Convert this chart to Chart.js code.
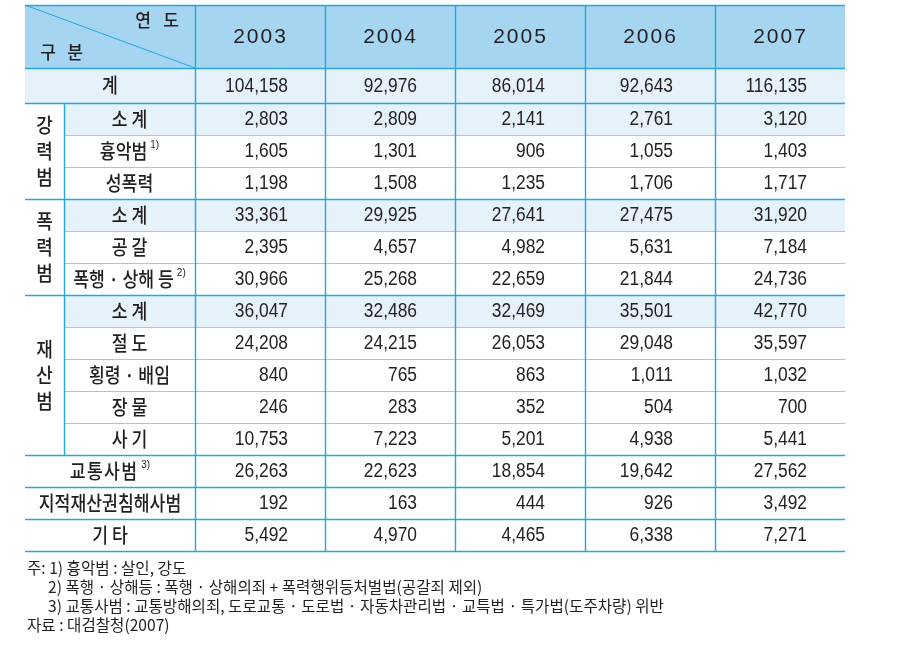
<!DOCTYPE html>
<html><head><meta charset="utf-8">
<script src="https://cdn.jsdelivr.net/npm/chart.js@4/dist/chart.umd.min.js"></script>
<style>
html,body{margin:0;padding:0;background:#fff;}
#wrap{position:relative;width:910px;height:649px;overflow:hidden;}
#c{position:absolute;left:0;top:0;}
.note{position:absolute;font-family:"Noto Sans CJK KR","Noto Sans",sans-serif;font-size:16px;line-height:20px;color:#231f20;white-space:nowrap;transform-origin:0 50%;transform:scaleX(0.975);}
</style>
</head><body>
<div id="wrap"><canvas id="c" width="910" height="649"></canvas>
<div id="notes"></div></div>
<script>
// ---- data ----
const years = ['2003','2004','2005','2006','2007'];
const rowLabels = ['계','소 계','흉악범','성폭력','소 계','공 갈','폭행 · 상해 등','소 계','절 도','횡령 · 배임','장 물','사 기','교통사범','지적재산권침해사범','기 타'];
const rowNotes  = ['','','1)','','','','2)','','','','','','3)','',''];
const groupNames = ['강력범','폭력범','재산범'];
const groupFirstRow = [1,4,7];
const groupLastRow  = [3,6,11];
const subtotalRows = [1,4,7];
const values2003 = [104158,2803,1605,1198,33361,2395,30966,36047,24208,840,246,10753,26263,192,5492];
const values2004 = [92976,2809,1301,1508,29925,4657,25268,32486,24215,765,283,7223,22623,163,4970];
const values2005 = [86014,2141,906,1235,27641,4982,22659,32469,26053,863,352,5201,18854,444,4465];
const values2006 = [92643,2761,1055,1706,27475,5631,21844,35501,29048,1011,504,4938,19642,926,6338];
const values2007 = [116135,3120,1403,1717,31920,7184,24736,42770,35597,1032,700,5441,27562,3492,7271];
const headerYearLabel = '연 도';
const headerRowLabel = '구 분';
const noteLines = ['주: 1) 흉악범 : 살인, 강도',
  '2) 폭행 · 상해등 : 폭행 · 상해의죄 + 폭력행위등처벌법(공갈죄 제외)',
  '3) 교통사범 : 교통방해의죄, 도로교통 · 도로법 · 자동차관리법 · 교특법 · 특가법(도주차량) 위반',
  '자료 : 대검찰청(2007)'];

// ---- layout / style ----
const valuesByYear = [values2003, values2004, values2005, values2006, values2007];
const numberPad = [37, 38, 40, 42, 38];
const UNIT_PX = 32;
const headerUnits = 63/UNIT_PX;
const rowUnits = rowLabels.map((_, i) => i === 0 ? 35/UNIT_PX : 1);
const rowEdges = [0];
rowUnits.forEach(u => rowEdges.push(rowEdges[rowEdges.length-1] + u));
const labelUnits = 170/130;
const groupColUnits = 39/130;
const C = {
  header:'#a6d5f1', shade:'#e5f2fb', dark:'#25a6e0', light:'#8cd0f0', text:'#231f20'
};
const KFONT = "'Noto Sans CJK KR','Noto Sans',sans-serif";
const NFONT = "'Liberation Sans',Arial,sans-serif";

function txt(ctx, s, x, y, font, align, sx, ls) {
  ctx.save();
  ctx.font = font; ctx.textBaseline = 'middle'; ctx.textAlign = align;
  ctx.fillStyle = C.text;
  if (ls) ctx.letterSpacing = ls + 'px';
  ctx.translate(x, y); ctx.scale(sx, 1);
  ctx.fillText(s, 0, 0);
  ctx.restore();
}
function width(ctx, s, font, sx, ls) {
  ctx.save(); ctx.font = font; if (ls) ctx.letterSpacing = ls + 'px';
  const w = ctx.measureText(s).width * sx; ctx.restore(); return w;
}

const tablePlugin = {
  id: 'table',
  beforeDatasetsDraw(chart) {
    const ctx = chart.ctx, xs = chart.scales.x, ys = chart.scales.y;
    const X = v => xs.getPixelForValue(v), Y = v => ys.getPixelForValue(v);
    const xL = X(xs.min), xR = X(xs.max), xSub = X(xs.min + groupColUnits), x0 = X(0);
    ctx.save();
    ctx.fillStyle = C.header;
    ctx.fillRect(xL, Y(-headerUnits), xR - xL, Y(0) - Y(-headerUnits));
    ctx.fillStyle = C.shade;
    ctx.fillRect(xL, Y(rowEdges[0]), xR - xL, Y(rowEdges[1]) - Y(rowEdges[0]));
    subtotalRows.forEach(r => ctx.fillRect(xSub, Y(rowEdges[r]), xR - xSub, Y(rowEdges[r+1]) - Y(rowEdges[r])));
    const hline = (yv, xa, col, lw) => {
      ctx.strokeStyle = col; ctx.lineWidth = lw;
      const y = Math.round(Y(yv)) + 0.5;
      ctx.beginPath(); ctx.moveTo(xa, y); ctx.lineTo(xR, y); ctx.stroke();
    };
    const vline = (xv, ya, yb) => {
      ctx.strokeStyle = C.dark; ctx.lineWidth = 1.4;
      const x = Math.round(X(xv)) + 0.5;
      ctx.beginPath(); ctx.moveTo(x, Y(ya)); ctx.lineTo(x, Y(yb)); ctx.stroke();
    };
    for (let g = 0; g < groupFirstRow.length; g++) {
      for (let r = groupFirstRow[g] + 1; r <= groupLastRow[g]; r++) hline(rowEdges[r], xSub, C.light, 1);
    }
    const fullEdges = [0, 1, 4, 7, 12, 13, 14, 15];
    hline(-headerUnits, xL, C.dark, 1.4);
    fullEdges.forEach(r => hline(rowEdges[r], xL, C.dark, 1.4));
    for (let j = 0; j < years.length; j++) vline(j, -headerUnits, rowEdges[rowEdges.length-1]);
    vline(xs.min + groupColUnits, rowEdges[1], rowEdges[12]);
    ctx.strokeStyle = C.dark; ctx.lineWidth = 1;
    ctx.beginPath(); ctx.moveTo(xL, Y(-headerUnits)); ctx.lineTo(x0, Y(0)); ctx.stroke();
    ctx.restore();
  },
  afterDatasetsDraw(chart) {
    const ctx = chart.ctx, xs = chart.scales.x, ys = chart.scales.y;
    const X = v => xs.getPixelForValue(v), Y = v => ys.getPixelForValue(v);
    const xL = X(xs.min), xSub = X(xs.min + groupColUnits), x0 = X(0);
    const yTop = Y(-headerUnits), yHB = Y(0);
    const hf = '500 18px ' + KFONT;
    const hy1 = yTop + (yHB - yTop) * 0.24, hy2 = yTop + (yHB - yTop) * 0.75;
    const yearChars = headerYearLabel.split(' ');
    txt(ctx, yearChars[0], x0 - 52, hy1, hf, 'center', 0.95);
    txt(ctx, yearChars[1], x0 - 24, hy1, hf, 'center', 0.95);
    const rowChars = headerRowLabel.split(' ');
    txt(ctx, rowChars[0], xL + 23, hy2, hf, 'center', 0.95);
    txt(ctx, rowChars[1], xL + 50, hy2, hf, 'center', 0.95);
    years.forEach((yr, j) => txt(ctx, yr, X(j + 0.5) + 0.5, (yTop + yHB) / 2 + 0.5, '21px ' + NFONT, 'center', 1, 2));
    const lf = '500 20px ' + KFONT, sx = 0.86;
    const supF = '10px ' + NFONT;
    rowLabels.forEach((lab, i) => {
      const inGroup = groupFirstRow.some((f, g) => i >= f && i <= groupLastRow[g]);
      const xa = inGroup ? xSub : xL;
      const cx = (xa + x0) / 2;
      const cy = (Y(rowEdges[i]) + Y(rowEdges[i+1])) / 2;
      const ls = lab === '교통사범' ? 1.5 : 0;
      const w = width(ctx, lab, lf, sx, ls);
      if (rowNotes[i]) {
        const ws = width(ctx, rowNotes[i], supF, 1, 0);
        const total = w + 3 + ws;
        const start = cx - total / 2;
        txt(ctx, lab, start, cy, lf, 'left', sx, ls);
        txt(ctx, rowNotes[i], start + w + 3, cy - 6, supF, 'left', 1, 0);
      } else {
        txt(ctx, lab, cx, cy, lf, 'center', sx, ls);
      }
    });
    groupNames.forEach((name, g) => {
      const cy = (Y(rowEdges[groupFirstRow[g]]) + Y(rowEdges[groupLastRow[g] + 1])) / 2;
      const cx = (xL + xSub) / 2;
      const chars = [...name];
      chars.forEach((ch, k) => txt(ctx, ch, cx, cy + (k - (chars.length - 1) / 2) * 26, lf, 'center', 0.9));
    });
    const nf = '20px ' + NFONT;
    chart.data.datasets.forEach((ds, j) => {
      const meta = chart.getDatasetMeta(j);
      meta.data.forEach((el, i) => {
        txt(ctx, ds.data[i].v.toLocaleString('en-US'), el.x - numberPad[j], el.y + 0.5, nf, 'right', 0.87);
      });
    });
  }
};

const rowCenter = i => (rowEdges[i] + rowEdges[i+1]) / 2;
new Chart(document.getElementById('c'), {
  type: 'scatter',
  data: {
    datasets: years.map((yr, j) => ({
      label: yr,
      data: valuesByYear[j].map((v, i) => ({ x: j + 1, y: rowCenter(i), v })),
      pointRadius: 0, pointHoverRadius: 0
    }))
  },
  options: {
    responsive: false, animation: false, devicePixelRatio: 1,
    layout: { padding: { left: 25, top: 5, right: 65, bottom: 98 } },
    plugins: { legend: { display: false }, tooltip: { enabled: false } },
    events: [],
    scales: {
      x: { type: 'linear', display: false, min: -labelUnits, max: years.length },
      y: { type: 'linear', display: false, reverse: true, min: -headerUnits, max: rowEdges[rowEdges.length-1] }
    }
  },
  plugins: [tablePlugin]
});

const notesEl = document.getElementById('notes');
const noteX = [27, 48, 48, 27], noteY = [567, 586, 605, 624];
noteLines.forEach((s, k) => {
  const d = document.createElement('div');
  d.className = 'note'; d.textContent = s;
  d.style.left = noteX[k] + 'px'; d.style.top = (noteY[k] - 10) + 'px';
  notesEl.appendChild(d);
});
</script>
</body></html>
